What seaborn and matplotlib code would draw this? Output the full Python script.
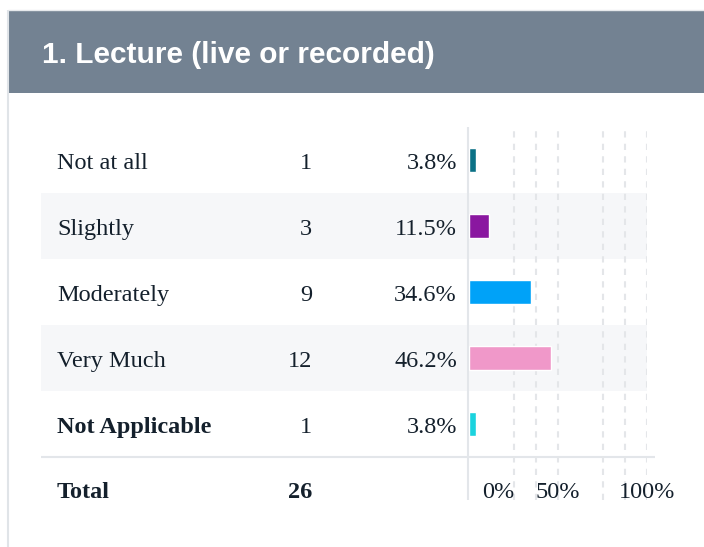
import matplotlib
matplotlib.use("Agg")
import matplotlib.pyplot as plt
import matplotlib.transforms as mtransforms
from matplotlib.patches import Rectangle
from matplotlib import font_manager as fm
import seaborn as sns
import pandas as pd

# ---- data ----
title = "1. Lecture (live or recorded)"
categories = ["Not at all", "Slightly", "Moderately", "Very Much", "Not Applicable"]
counts = [1, 3, 9, 12, 1]
percents = [3.8, 11.5, 34.6, 46.2, 3.8]
pct_labels = ["3.8%", "11.5%", "34.6%", "46.2%", "3.8%"]
bold_categories = ["Not Applicable"]
total_label = "Total"
total_count = 26
bar_colors = ["#0b7186", "#8a17a0", "#00a2f8", "#f098c9", "#1bd3de"]
grid_positions = [25, 37.5, 50, 75, 87.5, 100]
tick_positions = [16.3, 50, 100]
tick_labels = ["0%", "50%", "100%"]

# ---- styling / layout ----
W, H = 704, 547
TXT = "#14202c"
ROW_TOP, ROW_H, AX_BOTTOM = 127, 66, 500
X0, X100 = 469, 647
TOTAL_BASELINE = 498
FS = 17.5

sns.set_theme(style="white")
names = {f.name for f in fm.fontManager.ttflist}
serif = next((f for f in ["Liberation Serif", "Tinos", "Times New Roman",
                          "Nimbus Roman", "DejaVu Serif"] if f in names), "serif")
plt.rcParams["font.family"] = [serif, "DejaVu Serif"]

fig = plt.figure(figsize=(W / 100, H / 100), dpi=100, facecolor="white")
bg = fig.add_axes([0, 0, 1, 1])
bg.set_xlim(0, W)
bg.set_ylim(H, 0)
bg.axis("off")

n = len(categories)

# panel borders and header
bg.plot([8, 8], [10, H], color="#e0e4e8", lw=1.5, solid_capstyle="butt")
bg.plot([8, W], [10, 10], color="#e6e9ec", lw=1.0, solid_capstyle="butt")
bg.add_patch(Rectangle((9, 11), W - 9, 82, facecolor="#738292", lw=0))
bg.text(42, 63, title, color="white", fontsize=21.5, fontweight="bold",
        family=["Liberation Sans", "DejaVu Sans"], va="baseline")

# striped rows
for i in range(n):
    if i % 2 == 1:
        bg.add_patch(Rectangle((41, ROW_TOP + i * ROW_H), X100 - 41, ROW_H,
                               facecolor="#f6f7f9", lw=0))

# separator and axis line
bg.plot([41, 655], [ROW_TOP + n * ROW_H] * 2, color="#e3e6ea", lw=1.5,
        solid_capstyle="butt")
bg.plot([468, 468], [ROW_TOP, AX_BOTTOM], color="#e3e6ea", lw=1.5,
        solid_capstyle="butt")

# bar axes
ax = fig.add_axes([X0 / W, 1 - AX_BOTTOM / H, (X100 - X0) / W,
                   (AX_BOTTOM - ROW_TOP) / H])
df = pd.DataFrame({"category": categories, "percent": percents})
sns.barplot(data=df, x="percent", y="category", hue="category",
            order=categories, hue_order=categories, palette=bar_colors,
            legend=False, width=24 / ROW_H, saturation=1, ax=ax, zorder=3)
ax.set_xlim(0, 100)
ax.set_ylim(-0.5 + (AX_BOTTOM - ROW_TOP) / ROW_H, -0.5)
ax.set_facecolor("none")
ax.axis("off")
for g in grid_positions:
    ax.axvline(g, color="#e4e6e9", lw=1.5, dashes=(3, 3), zorder=1)

total_y = -0.5 + (TOTAL_BASELINE - ROW_TOP) / ROW_H
for t, lab in zip(tick_positions, tick_labels):
    ax.text(t, total_y, lab, ha="center", va="baseline", fontsize=FS, color=TXT)

# table text
trans = mtransforms.blended_transform_factory(bg.transData, ax.transData)
off = 9 / ROW_H
for i, (c, k, p) in enumerate(zip(categories, counts, pct_labels)):
    w = "bold" if c in bold_categories else "normal"
    bg.text(57, i + off, c, transform=trans, fontsize=FS, color=TXT,
            fontweight=w, va="baseline")
    bg.text(312, i + off, str(k), transform=trans, fontsize=FS, color=TXT,
            ha="right", va="baseline")
    bg.text(457, i + off, p, transform=trans, fontsize=FS, color=TXT,
            ha="right", va="baseline")

bg.text(57, total_y, total_label, transform=trans, fontsize=FS, color=TXT,
        fontweight="bold", va="baseline")
bg.text(312, total_y, str(total_count), transform=trans, fontsize=FS, color=TXT,
        fontweight="bold", ha="right", va="baseline")

fig.savefig("out.png", dpi=100, facecolor="white")
